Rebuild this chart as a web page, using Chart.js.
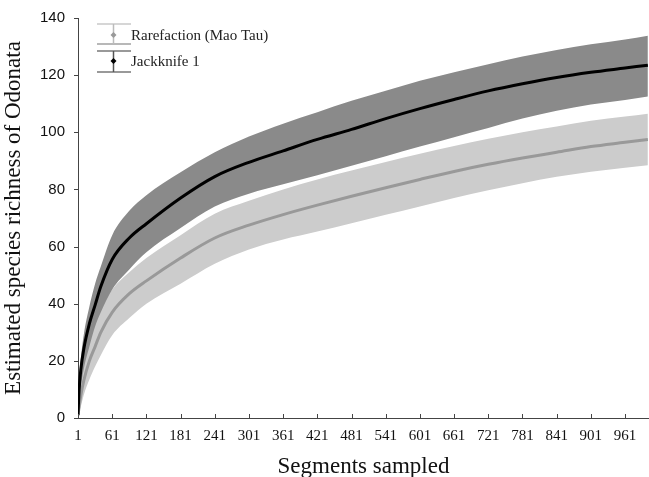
<!DOCTYPE html>
<html>
<head>
<meta charset="utf-8">
<script src="https://cdn.jsdelivr.net/npm/chart.js@4"></script>
<style>
  html, body { margin: 0; padding: 0; background: #fff; }
  #wrap { width: 649px; height: 477px; }
</style>
</head>
<body>
<div id="wrap"><canvas id="chart" width="649" height="477"></canvas></div>
<script>
// Values
const segments = [1, 3, 6, 11, 21, 31, 41, 61, 91, 121, 181, 241, 301, 361, 421, 481, 541, 601, 661, 721, 781, 841, 901, 961, 1001];
const jackMean  = [1, 10, 17, 24, 33, 39.5, 46, 55.5, 63, 68, 77, 84.5, 89.5, 93.5, 97.5, 101, 104.8, 108.3, 111.5, 114.5, 117, 119.2, 121, 122.5, 123.5];
const jackUpper = [2, 14, 21, 29, 39, 47, 53, 64, 72.5, 78, 86, 93, 98.5, 103, 107, 111, 114.5, 118, 121, 123.8, 126.5, 128.8, 130.8, 132.5, 133.8];
const jackLower = [0, 6, 11, 17, 25, 32, 37, 45, 52, 58, 66.5, 74, 78.5, 81.8, 85, 88.3, 91.6, 95, 98.3, 101.5, 104.8, 107.5, 109.7, 111.3, 112.5];
const rareMean  = [1, 4, 8, 13, 20, 25, 30, 37, 43.5, 48, 56, 63, 67.5, 71.2, 74.5, 77.6, 80.6, 83.5, 86.3, 88.8, 91, 93, 95, 96.5, 97.5];
const rareUpper = [2, 7, 12, 18, 27, 34, 38.5, 45, 51, 56, 64, 71.5, 76, 80, 83.5, 86.6, 89.6, 92.5, 95.2, 97.7, 100, 102, 104, 105.5, 106.5];
const rareLower = [0, 2, 4, 8, 13.5, 18, 22, 29, 35, 40, 47, 54, 59, 62.5, 65.3, 68.2, 71.1, 74, 77, 79.7, 82.2, 84.4, 86.2, 87.6, 88.5];
const xTicks = [1, 61, 121, 181, 241, 301, 361, 421, 481, 541, 601, 661, 721, 781, 841, 901, 961];
const yTicks = [0, 20, 40, 60, 80, 100, 120, 140];

const toPoints = arr => arr.map((v, i) => ({ x: segments[i], y: v }));

function line(data, color, width, fill, bg) {
    return {
        data: toPoints(data),
        borderColor: color,
        borderWidth: width,
        backgroundColor: bg || 'transparent',
        fill: fill,
        pointRadius: 0,
        cubicInterpolationMode: 'monotone'
    };
}

// Inward x ticks, outward y ticks, and the error-bar style legend
const extras = {
    id: 'extras',
    afterDraw(chart) {
        const ctx = chart.ctx;
        const xs = chart.scales.x, ys = chart.scales.y;
        const area = chart.chartArea;
        ctx.save();
        ctx.strokeStyle = '#444';
        ctx.lineWidth = 1;
        ctx.beginPath();
        xTicks.forEach(t => {
            const px = Math.round(xs.getPixelForValue(t)) + 0.5;
            ctx.moveTo(px, area.bottom);
            ctx.lineTo(px, area.bottom - 4);
        });
        yTicks.forEach(t => {
            const py = Math.round(ys.getPixelForValue(t)) + 0.5;
            ctx.moveTo(area.left, py);
            ctx.lineTo(area.left - 4, py);
        });
        ctx.stroke();

        // legend
        const items = [
            { label: 'Rarefaction (Mao Tau)', top: 24, bottom: 44, mid: 35, cap1: '#c8c8c8', cap2: '#a0a0a0', stem: '#bbbbbb', dot: '#999999' },
            { label: 'Jackknife 1', top: 51, bottom: 72, mid: 61, cap1: '#777777', cap2: '#777777', stem: '#555555', dot: '#000000' }
        ];
        ctx.font = '15px "Liberation Serif", "Times New Roman", serif';
        ctx.textBaseline = 'middle';
        items.forEach(it => {
            ctx.lineWidth = 1.5;
            ctx.strokeStyle = it.cap1;
            ctx.beginPath(); ctx.moveTo(97, it.top); ctx.lineTo(131, it.top); ctx.stroke();
            ctx.strokeStyle = it.cap2;
            ctx.beginPath(); ctx.moveTo(97, it.bottom); ctx.lineTo(131, it.bottom); ctx.stroke();
            ctx.strokeStyle = it.stem;
            ctx.beginPath(); ctx.moveTo(113.5, it.top); ctx.lineTo(113.5, it.bottom); ctx.stroke();
            ctx.fillStyle = it.dot;
            ctx.beginPath();
            ctx.moveTo(113.5, it.mid - 3); ctx.lineTo(116.5, it.mid);
            ctx.lineTo(113.5, it.mid + 3); ctx.lineTo(110.5, it.mid);
            ctx.closePath(); ctx.fill();
            ctx.fillStyle = '#222';
            ctx.fillText(it.label, 131, it.mid + 1);
        });
        ctx.restore();
    }
};

const ctx = document.getElementById('chart').getContext('2d');
new Chart(ctx, {
    type: 'line',
    data: {
        datasets: [
            line(jackMean, '#000000', 3, false),
            line(rareMean, '#999999', 3, false),
            line(jackUpper, '#8a8a8a', 0, '+1', '#8a8a8a'),
            line(jackLower, '#8a8a8a', 0, false),
            line(rareUpper, '#cccccc', 0, '+1', '#cccccc'),
            line(rareLower, '#cccccc', 0, false)
        ]
    },
    options: {
        responsive: false,
        animation: false,
        layout: { padding: { top: 18, right: 0, left: 0, bottom: -4 } },
        plugins: { legend: { display: false }, tooltip: { enabled: false } },
        scales: {
            x: {
                type: 'linear',
                min: 1,
                max: 1003,
                afterBuildTicks: s => { s.ticks = xTicks.map(v => ({ value: v })); },
                afterFit: s => { s.height = 63; },
                grid: { display: false },
                border: { display: true, color: '#444', width: 1 },
                ticks: {
                    autoSkip: false,
                    maxRotation: 0,
                    padding: 1,
                    color: '#111',
                    font: { family: '"Liberation Serif", serif', size: 15 }
                },
                title: {
                    display: true,
                    text: 'Segments sampled',
                    color: '#111',
                    padding: { top: 16, bottom: 0 },
                    font: { family: '"Liberation Serif", serif', size: 23 }
                }
            },
            y: {
                min: 0,
                max: 140,
                afterBuildTicks: s => { s.ticks = yTicks.map(v => ({ value: v })); },
                afterFit: s => { s.width = 78; },
                grid: { display: false },
                border: { display: true, color: '#444', width: 1 },
                ticks: {
                    padding: 5,
                    color: '#111',
                    font: { family: '"Liberation Sans", sans-serif', size: 15 }
                },
                title: {
                    display: true,
                    text: 'Estimated species richness of Odonata',
                    color: '#111',
                    padding: { top: 0, bottom: 0 },
                    font: { family: '"Liberation Serif", serif', size: 23 }
                }
            }
        }
    },
    plugins: [extras]
});
</script>
</body>
</html>
